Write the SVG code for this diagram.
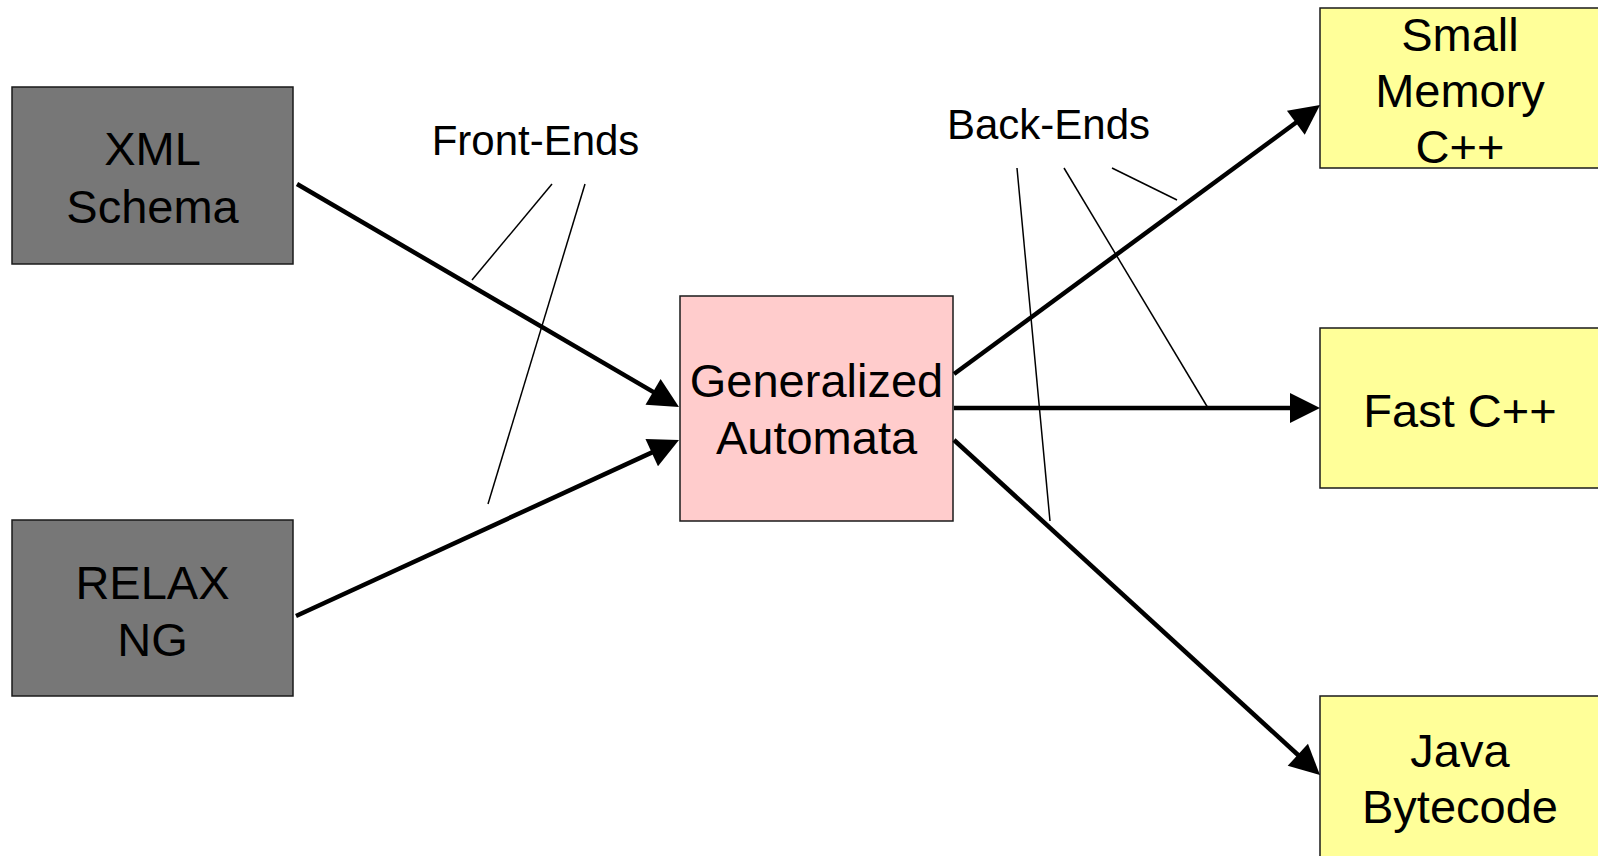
<svg xmlns="http://www.w3.org/2000/svg" width="1598" height="856" viewBox="0 0 1598 856">
  <style>
    .box { stroke: #1a1a1a; stroke-width: 1.5; }
    .src { fill: #777777; }
    .core { fill: #ffcccc; }
    .out { fill: #ffff99; }
    .node-text { font-family: "Liberation Sans", Arial, sans-serif; font-size: 47px; fill: #000; text-anchor: middle; }
    .label { font-family: "Liberation Sans", Arial, sans-serif; font-size: 42px; fill: #000; text-anchor: middle; }
    .edge { stroke: #000; stroke-width: 4.5; fill: none; }
    .pointer { stroke: #000; stroke-width: 1.5; fill: none; }
  </style>
  <defs>
    <marker id="arrow" markerUnits="userSpaceOnUse" markerWidth="30" markerHeight="30" refX="10" refY="15" orient="auto" overflow="visible">
      <path d="M0,0 L30,15 L0,30 Z" fill="#000"/>
    </marker>
  </defs>

  <rect width="1598" height="856" fill="#ffffff"/>

  <!-- Source schema languages -->
  <g id="xml-schema">
    <rect class="box src" x="12" y="87" width="281" height="177"/>
    <text class="node-text" x="152.5" y="165">XML</text>
    <text class="node-text" x="152.5" y="223">Schema</text>
  </g>
  <g id="relax-ng">
    <rect class="box src" x="12" y="520" width="281" height="176"/>
    <text class="node-text" x="152.5" y="599">RELAX</text>
    <text class="node-text" x="152.5" y="656">NG</text>
  </g>

  <!-- Intermediate representation -->
  <g id="generalized-automata">
    <rect class="box core" x="680" y="296" width="273" height="225"/>
    <text class="node-text" x="816.5" y="397">Generalized</text>
    <text class="node-text" x="816.5" y="454">Automata</text>
  </g>

  <!-- Code generation targets -->
  <g id="small-memory-cpp">
    <rect class="box out" x="1320" y="8" width="280" height="160"/>
    <text class="node-text" x="1460" y="51">Small</text>
    <text class="node-text" x="1460" y="107">Memory</text>
    <text class="node-text" x="1460" y="163">C++</text>
  </g>
  <g id="fast-cpp">
    <rect class="box out" x="1320" y="328" width="280" height="160"/>
    <text class="node-text" x="1460" y="427">Fast C++</text>
  </g>
  <g id="java-bytecode">
    <rect class="box out" x="1320" y="696" width="280" height="170"/>
    <text class="node-text" x="1460" y="767">Java</text>
    <text class="node-text" x="1460" y="823">Bytecode</text>
  </g>

  <!-- Flow arrows -->
  <g id="connectors">
    <line class="edge" x1="297" y1="184" x2="661.7" y2="396.9" marker-end="url(#arrow)"/>
    <line class="edge" x1="296" y1="616" x2="660.8" y2="448.4" marker-end="url(#arrow)"/>
    <line class="edge" x1="954" y1="374" x2="1303.9" y2="116.8" marker-end="url(#arrow)"/>
    <line class="edge" x1="954" y1="408" x2="1300" y2="408" marker-end="url(#arrow)"/>
    <line class="edge" x1="954" y1="440" x2="1305.2" y2="761.5" marker-end="url(#arrow)"/>
  </g>

  <!-- Group labels with pointer lines -->
  <g id="front-ends">
    <text class="label" x="535.5" y="155">Front-Ends</text>
    <line class="pointer" x1="552" y1="184" x2="472" y2="280"/>
    <line class="pointer" x1="585" y1="184" x2="488" y2="504"/>
  </g>
  <g id="back-ends">
    <text class="label" x="1048.5" y="139">Back-Ends</text>
    <line class="pointer" x1="1017" y1="168" x2="1050" y2="521"/>
    <line class="pointer" x1="1064" y1="168" x2="1208" y2="408"/>
    <line class="pointer" x1="1112" y1="168" x2="1177" y2="200"/>
  </g>
</svg>
